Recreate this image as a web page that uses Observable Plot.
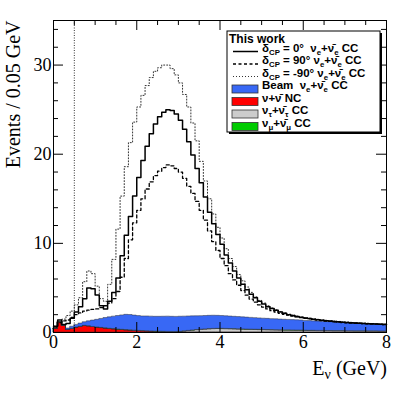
<!DOCTYPE html>
<html><head><meta charset="utf-8">
<script src="https://cdn.jsdelivr.net/npm/d3@7"></script>
<script src="https://cdn.jsdelivr.net/npm/@observablehq/plot@0.6"></script>
<style>body{margin:0;background:#fff} svg{display:block}</style>
</head><body><div id="chart"></div>
<script>
// ---- data (events per bin, bins of 0.1 GeV starting at 0) ----
const binWidth = 0.1;
const delta0 = [0.7,1.4,0.9,1.0,1.6,2.3,2.9,3.8,5.0,4.9, 4.2,3.0,2.65,3.5,4.5,6.1,8.6,10.9,13.0,15.3,
  17.4,19.3,20.9,22.3,23.4,24.2,24.7,25.0,24.9,24.5, 23.8,22.8,21.4,19.9,18.4,16.8,15.2,13.5,12.2,11.0,
  9.9,8.7,7.8,6.9,6.1,5.4,4.8,4.3,3.9,3.5, 3.2,2.9,2.7,2.5,2.3,2.15,2.0,1.9,1.8,1.7,
  1.63,1.56,1.5,1.44,1.38,1.33,1.28,1.24,1.2,1.16, 1.13,1.1,1.07,1.04,1.01,0.99,0.97,0.94,0.92,0.9];
const delta90 = [0.6,1.1,1.3,1.4,1.7,2.0,2.2,2.4,2.5,2.6, 2.65,2.8,3.0,3.3,3.8,4.6,6.2,8.3,10.4,12.3,
  13.7,15.0,16.1,16.9,17.6,18.1,18.5,18.8,18.7,18.4, 18.0,17.3,16.4,15.6,14.7,13.7,12.6,11.4,10.2,9.2,
  8.3,7.5,6.6,5.9,5.3,4.7,4.2,3.75,3.4,3.1, 2.85,2.65,2.45,2.3,2.15,2.05,1.95,1.85,1.76,1.66,
  1.59,1.52,1.46,1.4,1.34,1.29,1.24,1.2,1.16,1.12, 1.09,1.06,1.04,1.02,0.99,0.97,0.95,0.93,0.91,0.9];
const deltaM90 = [0.7,1.2,1.5,1.9,2.4,3.1,3.9,5.7,6.9,6.6, 5.2,3.8,3.5,5.4,8.2,11.6,15.3,18.6,21.3,23.6,
  25.3,26.6,27.7,28.6,29.3,29.7,30.0,30.0,29.6,28.9, 28.0,26.7,25.3,23.5,21.5,19.2,17.0,15.0,13.3,11.8,
  10.6,9.4,8.3,7.4,6.5,5.8,5.1,4.5,4.0,3.6, 3.3,3.0,2.75,2.55,2.35,2.2,2.05,1.94,1.84,1.74,
  1.67,1.6,1.54,1.48,1.42,1.37,1.32,1.28,1.24,1.2, 1.17,1.14,1.11,1.08,1.05,1.03,1.01,0.98,0.96,0.94];
// backgrounds (stacked)
const bgNC = [0.4,1.15,0.75,0.3,0.4,0.55,0.65,0.75,0.7,0.62, 0.55,0.5,0.45,0.4,0.36,0.32,0.28,0.25,0.22,0.19,
  0.16,0.14,0.12,0.1,0.08,0.07,0.06,0.05,0.04,0.04, 0.03,0.03,0.03,0.03,0.03,0.03,0.03,0.03,0.03,0.03,
  0.02,0.02,0.02,0.02,0.02,0.02,0.02,0.02,0.02,0.02, 0.02,0.02,0.02,0.02,0.02,0.02,0.02,0.02,0.02,0.02,
  0.02,0.02,0.02,0.02,0.02,0.02,0.02,0.02,0.02,0.02, 0.02,0.02,0.02,0.02,0.02,0.02,0.02,0.02,0.02,0.02];
const bgTau = [0,0,0,0,0,0,0,0,0,0, 0,0,0,0,0,0,0,0,0,0, 0,0,0,0,0,0,0,0,0,0,
  0.03,0.08,0.13,0.18,0.23,0.27,0.3,0.33,0.35,0.36, 0.36,0.35,0.34,0.33,0.31,0.3,0.28,0.27,0.26,0.25,
  0.24,0.23,0.22,0.21,0.2,0.19,0.19,0.18,0.17,0.17, 0.16,0.15,0.15,0.14,0.14,0.13,0.13,0.12,0.12,0.12,
  0.11,0.11,0.1,0.1,0.1,0.09,0.09,0.09,0.08,0.08];
const bgMu = [0,0,0,0,0,0,0,0,0,0, 0.02,0.02,0.02,0.02,0.02,0.02,0.02,0.02,0.02,0.02,
  0.02,0.02,0.02,0.02,0.02,0.02,0.02,0.02,0.02,0.02, 0.02,0.02,0.02,0.02,0.02,0.02,0.02,0.02,0.02,0.02,
  0.03,0.03,0.03,0.03,0.03,0.03,0.03,0.03,0.03,0.03, 0.03,0.03,0.03,0.03,0.03,0.03,0.03,0.03,0.03,0.03,
  0.02,0.02,0.02,0.02,0.02,0.02,0.02,0.02,0.02,0.02, 0.02,0.02,0.02,0.02,0.02,0.02,0.02,0.02,0.02,0.02];
const bgBeam = [0,0,0.05,0.15,0.25,0.3,0.35,0.4,0.55,0.72, 0.85,1.0,1.15,1.28,1.4,1.51,1.62,1.71,1.72,1.69,
  1.66,1.64,1.66,1.66,1.66,1.67,1.69,1.71,1.7,1.69, 1.69,1.65,1.62,1.58,1.54,1.51,1.5,1.49,1.48,1.46,
  1.44,1.42,1.4,1.38,1.37,1.35,1.34,1.32,1.3,1.28, 1.26,1.25,1.23,1.22,1.2,1.19,1.17,1.16,1.15,1.13,
  1.1,1.09,1.06,1.05,1.02,1.01,0.99,0.97,0.95,0.93, 0.92,0.9,0.89,0.87,0.85,0.84,0.82,0.8,0.79,0.77];
const bgOrder = ["NC", "tau", "mu", "beam"];
const bgColors = ["#ff0000", "#cccccc", "#00cc00", "#3868f5"];
const cutEnergy = [0.5];
const xMajorTicks = [0, 2, 4, 6, 8];
const xMinorTicks = [0.5, 1, 1.5, 2.5, 3, 3.5, 4.5, 5, 5.5, 6.5, 7, 7.5];
const yMajorTicks = [0, 10, 20, 30];
const yMinorTicks = [2, 4, 6, 8, 12, 14, 16, 18, 22, 24, 26, 28, 32, 34];
const xDomain = [0, 8], yDomain = [0, 35];
const yTitle = "Events / 0.05 GeV";
const legendHeader = "This work";
const legendLabels = [
  "δ_{CP} = 0°  ν_{e}+ν̄_{e} CC",
  "δ_{CP} = 90° ν_{e}+ν̄_{e} CC",
  "δ_{CP} = -90° ν_{e}+ν̄_{e} CC",
  "Beam  ν_{e}+ν̄_{e} CC",
  "ν+ν̄ NC",
  "ν_{τ}+ν̄_{τ} CC",
  "ν_{μ}+ν̄_{μ} CC"
];

// ---- build ----
const W = 407, H = 396, mL = 53, mR = 21, mT = 20, mB = 64;
const plotW = W - mL - mR, plotH = H - mT - mB;
function hist(values, series) {
  const pts = values.map((v, i) => ({e: i * binWidth, v, series}));
  pts.push({e: values.length * binWidth, v: values[values.length - 1], series});
  return pts;
}
const bgData = [].concat(hist(bgNC, "NC"), hist(bgTau, "tau"), hist(bgMu, "mu"), hist(bgBeam, "beam"));

const chart = Plot.plot({
  width: W, height: H,
  marginLeft: mL, marginRight: mR, marginTop: mT, marginBottom: mB,
  style: {fontFamily: "'Liberation Serif', serif", fontSize: "18px", background: "white", overflow: "visible"},
  x: {domain: xDomain},
  y: {domain: yDomain},
  color: {domain: bgOrder, range: bgColors},
  marks: [
    Plot.areaY(bgData, {x: "e", y: "v", fill: "series", order: bgOrder, curve: "step-after", stroke: "#333", strokeWidth: 0.5}),
    Plot.ruleX(cutEnergy, {x: d => d, stroke: "black", strokeWidth: 0.8, strokeDasharray: "1,1.5"}),
    Plot.line(hist(delta90, "d90"), {x: "e", y: "v", curve: "step-after", stroke: "black", strokeWidth: 1.3, strokeDasharray: "3,2.5"}),
    Plot.line(hist(deltaM90, "dm90"), {x: "e", y: "v", curve: "step-after", stroke: "#333", strokeWidth: 1, strokeDasharray: "1,2"}),
    Plot.line(hist(delta0, "d0"), {x: "e", y: "v", curve: "step-after", stroke: "black", strokeWidth: 1.5}),
    Plot.tickX(xMajorTicks, {x: d => d, insetTop: plotH - 10, stroke: "black"}),
    Plot.tickX(xMajorTicks, {x: d => d, insetBottom: plotH - 10, stroke: "black"}),
    Plot.tickX(xMinorTicks, {x: d => d, insetTop: plotH - 5, stroke: "black"}),
    Plot.tickX(xMinorTicks, {x: d => d, insetBottom: plotH - 5, stroke: "black"}),
    Plot.tickY(yMajorTicks, {y: d => d, insetRight: plotW - 10, stroke: "black"}),
    Plot.tickY(yMajorTicks, {y: d => d, insetLeft: plotW - 10, stroke: "black"}),
    Plot.tickY(yMinorTicks, {y: d => d, insetRight: plotW - 5, stroke: "black"}),
    Plot.tickY(yMinorTicks, {y: d => d, insetLeft: plotW - 5, stroke: "black"}),
    Plot.frame({stroke: "black", strokeWidth: 1}),
    Plot.axisX(xMajorTicks, {tickSize: 0, tickPadding: 3, label: null, fontSize: 18, tickFormat: d => String(d)}),
    Plot.axisY(yMajorTicks, {tickSize: 0, tickPadding: 2, label: null, fontSize: 18, tickFormat: d => String(d)}),
    Plot.text([yTitle], {text: d => d, frameAnchor: "top-left", rotate: -90, textAnchor: "end", lineAnchor: "middle", dx: -40, fontSize: 20})
  ]
});
document.getElementById("chart").appendChild(chart);

const svg = d3.select(chart);
// x-axis title with subscript
const xl = svg.append("text").attr("x", W - mR + 1).attr("y", 375).attr("text-anchor", "end")
  .style("font-family", "'Liberation Serif', serif").style("font-size", "20px").attr("fill", "black");
xl.append("tspan").text("E");
xl.append("tspan").attr("font-size", "14px").attr("dy", 4).text("ν");
xl.append("tspan").attr("dy", -4).text(" (GeV)");

// legend
function rich(sel, str, size) {
  const parts = str.split(/(_\{[^}]*\})/);
  let shifted = false;
  for (const p of parts) {
    if (!p) continue;
    if (p.startsWith("_{")) {
      sel.append("tspan").attr("font-size", (size * 0.68) + "px").attr("dy", shifted ? 0 : 3).text(p.slice(2, -1));
      shifted = true;
    } else {
      sel.append("tspan").attr("dy", shifted ? -3 : 0).text(p);
      shifted = false;
    }
  }
}
const lg = svg.append("g").attr("text-anchor", "start")
  .style("font-family", "'Liberation Sans', Arial, sans-serif").style("font-weight", "bold");
const lx0 = 227, ly0 = 31, lw = 153, lh = 101, rowH = 12.5, fs = 11.5;
lg.append("rect").attr("x", lx0 + 2).attr("y", ly0 + 2).attr("width", lw).attr("height", lh).attr("fill", "black");
lg.append("rect").attr("x", lx0).attr("y", ly0).attr("width", lw).attr("height", lh).attr("fill", "white").attr("stroke", "black").attr("stroke-width", 1);
lg.append("text").attr("x", lx0 + 2).attr("y", ly0 + 8).attr("dy", "0.35em").attr("text-anchor", "start")
  .style("font-size", (fs + 0.5) + "px").text(legendHeader);
const lineStyles = [
  {stroke: "black", w: 1.5, dash: null},
  {stroke: "black", w: 1.3, dash: "3,2.5"},
  {stroke: "#333", w: 1, dash: "1,2"}
];
legendLabels.forEach((lab, i) => {
  const cy = ly0 + 8 + (i + 1) * rowH;
  if (i < 3) {
    const s = lineStyles[i];
    lg.append("line").attr("x1", lx0 + 6).attr("x2", lx0 + 31).attr("y1", cy).attr("y2", cy)
      .attr("stroke", s.stroke).attr("stroke-width", s.w).attr("stroke-dasharray", s.dash);
  } else {
    const ci = [3, 0, 1, 2][i - 3];
    lg.append("rect").attr("x", lx0 + 5).attr("y", cy - 4).attr("width", 26).attr("height", 8)
      .attr("fill", bgColors[ci]).attr("stroke", "#333").attr("stroke-width", 0.8);
  }
  const t = lg.append("text").attr("x", lx0 + 35).attr("y", cy).attr("dy", "0.35em").attr("text-anchor", "start")
    .style("font-size", fs + "px");
  rich(t, lab, fs);
});
</script></body></html>
